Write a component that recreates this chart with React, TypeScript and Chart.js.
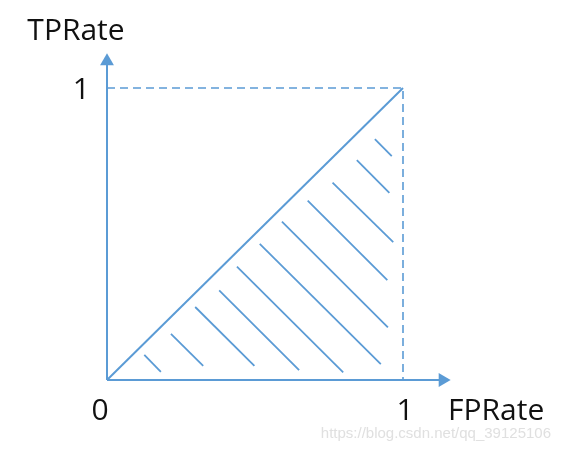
import React, { useEffect, useRef } from "react";
import { Chart, registerables } from "chart.js";

Chart.register(...registerables);

// ROC illustration values (data space: FPRate on x, TPRate on y)
const axisXEnd = 1.134;
const axisYEnd = 1.092;
const diagonalX = [0, 1];
const diagonalY = [0, 1];
const boxX = [0, 1, 1];
const boxY = [1, 1, 0];
// hatch segments inside the area under the diagonal
const hatchX1 = [0.126, 0.216, 0.298, 0.379, 0.439, 0.516, 0.591, 0.678, 0.762, 0.844, 0.905];
const hatchY1 = [0.086, 0.158, 0.25, 0.307, 0.388, 0.466, 0.542, 0.614, 0.676, 0.753, 0.825];
const hatchX2 = [0.182, 0.325, 0.498, 0.649, 0.798, 0.925, 0.949, 0.947, 0.967, 0.954, 0.962];
const hatchY2 = [0.028, 0.048, 0.048, 0.034, 0.026, 0.054, 0.18, 0.342, 0.472, 0.641, 0.767];
const tickLabels = ["0", "1", "1"];
const axisTitles = ["FPRate", "TPRate"];
const watermark = "https://blog.csdn.net/qq_39125106";

const BLUE = "#5B9BD5";

export default function App() {
  const ref = useRef<HTMLCanvasElement | null>(null);
  useEffect(() => {
    if (!ref.current) return;
    const seg = (xs: number[], ys: number[]) => xs.map((x, i) => ({ x, y: ys[i] }));
    const lineDs = (data: any[], width: number, dash: number[] = []) => ({
      type: "scatter" as const,
      data,
      showLine: true,
      borderColor: BLUE,
      backgroundColor: BLUE,
      borderWidth: width,
      borderDash: dash,
      pointRadius: 0,
      pointHoverRadius: 0,
      tension: 0,
    });
    const hatch = hatchX1.map((_, i) =>
      lineDs(
        [
          { x: hatchX1[i], y: hatchY1[i] },
          { x: hatchX2[i], y: hatchY2[i] },
        ],
        1.8
      )
    );
    const arrowR = 8;
    const datasets: any[] = [
      lineDs([{ x: 0, y: 0 }, { x: axisXEnd, y: 0 }], 2),
      lineDs([{ x: 0, y: 0 }, { x: 0, y: axisYEnd }], 2),
      lineDs(seg(diagonalX, diagonalY), 2),
      lineDs(seg(boxX, boxY), 1.6, [8, 5]),
      ...hatch,
      {
        type: "scatter",
        data: [{ x: axisXEnd, y: 0 }],
        pointStyle: "triangle",
        rotation: 90,
        pointRadius: arrowR,
        pointHoverRadius: arrowR,
        backgroundColor: BLUE,
        borderColor: BLUE,
        borderWidth: 0,
        showLine: false,
      },
      {
        type: "scatter",
        data: [{ x: 0, y: axisYEnd }],
        pointStyle: "triangle",
        rotation: 0,
        pointRadius: arrowR,
        pointHoverRadius: arrowR,
        backgroundColor: BLUE,
        borderColor: BLUE,
        borderWidth: 0,
        showLine: false,
      },
    ];

    const labelsPlugin = {
      id: "labels",
      afterDatasetsDraw(chart: any) {
        const { ctx, scales } = chart;
        const xs = scales.x;
        const ys = scales.y;
        ctx.save();
        ctx.fillStyle = "#111";
        ctx.font = '30px "Open Sans", "Noto Sans", sans-serif';
        ctx.textBaseline = "alphabetic";
        // tick labels
        ctx.textAlign = "center";
        ctx.fillText(tickLabels[0], xs.getPixelForValue(0) - 7, ys.getPixelForValue(0) + 40);
        ctx.fillText(tickLabels[1], xs.getPixelForValue(1) + 2, ys.getPixelForValue(0) + 40);
        ctx.textAlign = "right";
        ctx.fillText(tickLabels[2], xs.getPixelForValue(0) - 17, ys.getPixelForValue(1) + 11);
        // axis titles
        ctx.textAlign = "left";
        ctx.fillText(axisTitles[0], xs.getPixelForValue(1) + 45, ys.getPixelForValue(0) + 40);
        ctx.textAlign = "center";
        ctx.fillText(axisTitles[1], xs.getPixelForValue(0) - 31, ys.getPixelForValue(1) - 48);
        // watermark
        ctx.fillStyle = "#e0e0e0";
        ctx.font = '15px "Liberation Sans", Arial, sans-serif';
        ctx.textAlign = "right";
        ctx.fillText(watermark, 551, 438);
        ctx.restore();
      },
    };

    const chart = new Chart(ref.current, {
      type: "scatter",
      data: { datasets },
      options: {
        animation: false,
        responsive: false,
        devicePixelRatio: 1,
        layout: { padding: 0, autoPadding: false },
        plugins: { legend: { display: false }, tooltip: { enabled: false } },
        events: [],
        scales: {
          x: { type: "linear", display: false, min: -107 / 296, max: (562 - 107) / 296 },
          y: { type: "linear", display: false, min: (380 - 452) / 292, max: 380 / 292 },
        },
      },
      plugins: [labelsPlugin],
    });
    return () => chart.destroy();
  }, []);
  return (
    <div style={{ position: "absolute", left: 0, top: 0, width: 562, height: 452, background: "#fff" }}>
      <canvas ref={ref} width={562} height={452} style={{ width: 562, height: 452, display: "block" }} />
    </div>
  );
}
